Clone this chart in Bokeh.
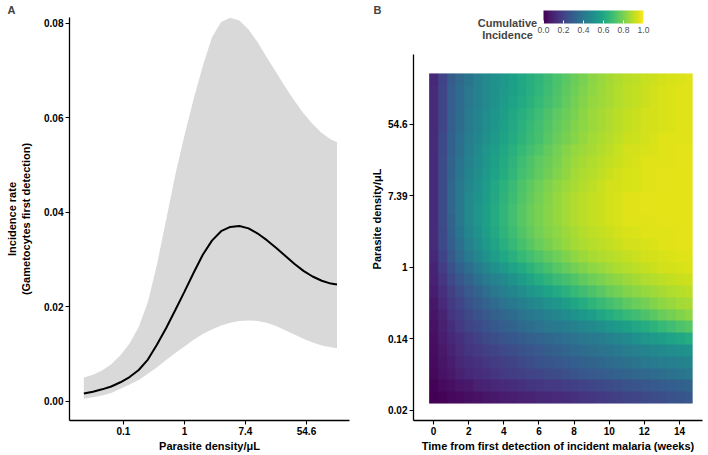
import numpy as np
from bokeh.embed import file_html
from bokeh.layouts import row
from bokeh.models import ColorBar, FixedTicker, Label, LinearColorMapper, PrintfTickFormatter, Range1d
from bokeh.palettes import Viridis256
from bokeh.plotting import figure
from bokeh.resources import INLINE

FONT = "Liberation Sans"

# ---- panel A: incidence rate vs parasite density (x is ln of density) ----
density_ln_a = [-3.3, -3.0, -2.7, -2.4, -2.1, -1.8, -1.5, -1.2, -0.9, -0.6, -0.3, 0.0, 0.3, 0.6, 0.9,
                1.2, 1.5, 1.8, 2.1, 2.4, 2.7, 3.0, 3.3, 3.6, 3.9, 4.2, 4.5, 4.8, 5.0]
rate_mid = [0.0016, 0.0020, 0.0025, 0.0031, 0.0040, 0.0051, 0.0066, 0.0088, 0.0120, 0.0155, 0.0193,
            0.0232, 0.0272, 0.0310, 0.0340, 0.0360, 0.0369, 0.0371, 0.0366, 0.0355, 0.0341, 0.0325,
            0.0308, 0.0291, 0.0276, 0.0264, 0.0255, 0.0249, 0.0247]
rate_hi = [0.0050, 0.0056, 0.0065, 0.0078, 0.0097, 0.0122, 0.0157, 0.0210, 0.0290, 0.0385, 0.0480,
           0.0563, 0.0640, 0.0710, 0.0770, 0.0803, 0.0812, 0.0806, 0.0787, 0.0760, 0.0728, 0.0697,
           0.0666, 0.0637, 0.0610, 0.0587, 0.0568, 0.0554, 0.0549]
rate_lo = [0.0005, 0.0008, 0.0012, 0.0017, 0.0026, 0.0035, 0.0045, 0.0058, 0.0072, 0.0087, 0.0102,
           0.0116, 0.0130, 0.0142, 0.0152, 0.0160, 0.0166, 0.0170, 0.0171, 0.0170, 0.0166, 0.0159,
           0.0150, 0.0141, 0.0132, 0.0124, 0.0118, 0.0114, 0.0112]
xticks_a = [-2, 0, 2, 4]
xlabels_a = ["0.1", "1", "7.4", "54.6"]
yticks_a = [0, 0.02, 0.04, 0.06, 0.08]

# ---- panel B: cumulative incidence by week (half-week steps) and ln density ----
weeks = [i * 0.5 for i in range(30)]
density_ln_b = [-3.65, -3.32, -2.98, -2.65, -2.32, -1.98, -1.65, -1.32, -0.98, -0.65, -0.32, 0.02,
                0.35, 0.68, 1.02, 1.35, 1.68, 2.02, 2.35, 2.68, 3.02, 3.35, 3.68, 4.02, 4.35, 4.68,
                5.02, 5.35]
# rows go from lowest density (bottom) to highest (top), one value per half week
incidence = [
    [0.00, 0.01, 0.02, 0.03, 0.04, 0.05, 0.06, 0.07, 0.08, 0.085, 0.09, 0.10, 0.11, 0.115, 0.12,
     0.13, 0.14, 0.15, 0.16, 0.17, 0.18, 0.19, 0.20, 0.21, 0.22, 0.23, 0.24, 0.25, 0.26, 0.27],
    [0.01, 0.03, 0.04, 0.06, 0.07, 0.09, 0.10, 0.11, 0.12, 0.13, 0.14, 0.15, 0.16, 0.165, 0.17,
     0.18, 0.19, 0.20, 0.21, 0.22, 0.23, 0.24, 0.25, 0.26, 0.27, 0.28, 0.29, 0.30, 0.31, 0.32],
    [0.02, 0.05, 0.07, 0.09, 0.11, 0.125, 0.14, 0.155, 0.17, 0.18, 0.19, 0.20, 0.21, 0.22, 0.23,
     0.245, 0.26, 0.27, 0.28, 0.29, 0.30, 0.31, 0.32, 0.33, 0.34, 0.35, 0.36, 0.375, 0.39, 0.40],
    [0.03, 0.06, 0.08, 0.11, 0.13, 0.145, 0.16, 0.175, 0.19, 0.205, 0.22, 0.235, 0.25, 0.26, 0.27,
     0.285, 0.30, 0.31, 0.32, 0.335, 0.35, 0.36, 0.37, 0.385, 0.40, 0.41, 0.42, 0.43, 0.44, 0.45],
    [0.035, 0.07, 0.10, 0.125, 0.15, 0.17, 0.19, 0.205, 0.22, 0.235, 0.25, 0.265, 0.28, 0.295, 0.31,
     0.325, 0.34, 0.355, 0.37, 0.38, 0.39, 0.405, 0.42, 0.435, 0.45, 0.465, 0.48, 0.49, 0.50, 0.51],
    [0.04, 0.08, 0.11, 0.14, 0.17, 0.195, 0.22, 0.24, 0.26, 0.275, 0.29, 0.305, 0.32, 0.335, 0.35,
     0.365, 0.38, 0.395, 0.41, 0.425, 0.44, 0.46, 0.48, 0.50, 0.52, 0.54, 0.56, 0.58, 0.60, 0.62],
    [0.05, 0.09, 0.13, 0.165, 0.20, 0.225, 0.25, 0.275, 0.30, 0.32, 0.34, 0.36, 0.38, 0.395, 0.41,
     0.425, 0.44, 0.46, 0.48, 0.50, 0.52, 0.545, 0.57, 0.595, 0.62, 0.645, 0.67, 0.695, 0.72, 0.74],
    [0.055, 0.10, 0.15, 0.185, 0.22, 0.25, 0.28, 0.305, 0.33, 0.355, 0.38, 0.40, 0.42, 0.44, 0.46,
     0.485, 0.51, 0.535, 0.56, 0.59, 0.62, 0.645, 0.67, 0.695, 0.72, 0.745, 0.77, 0.79, 0.81, 0.83],
    [0.065, 0.12, 0.17, 0.21, 0.25, 0.285, 0.32, 0.35, 0.38, 0.405, 0.43, 0.455, 0.48, 0.505, 0.53,
     0.56, 0.59, 0.62, 0.65, 0.675, 0.70, 0.725, 0.75, 0.77, 0.79, 0.81, 0.83, 0.845, 0.86, 0.87],
    [0.08, 0.14, 0.19, 0.235, 0.28, 0.32, 0.36, 0.395, 0.43, 0.46, 0.49, 0.52, 0.55, 0.58, 0.61,
     0.64, 0.67, 0.695, 0.72, 0.745, 0.77, 0.79, 0.81, 0.825, 0.84, 0.855, 0.87, 0.88, 0.89, 0.90],
    [0.09, 0.16, 0.22, 0.27, 0.32, 0.365, 0.41, 0.445, 0.48, 0.515, 0.55, 0.585, 0.62, 0.65, 0.68,
     0.705, 0.73, 0.755, 0.78, 0.80, 0.82, 0.835, 0.85, 0.865, 0.88, 0.89, 0.90, 0.91, 0.92, 0.925],
    [0.10, 0.18, 0.25, 0.31, 0.36, 0.41, 0.46, 0.50, 0.54, 0.575, 0.61, 0.645, 0.68, 0.71, 0.74,
     0.765, 0.79, 0.81, 0.83, 0.845, 0.86, 0.875, 0.89, 0.90, 0.91, 0.92, 0.93, 0.935, 0.94, 0.945],
    [0.11, 0.20, 0.28, 0.35, 0.41, 0.46, 0.51, 0.555, 0.60, 0.635, 0.67, 0.70, 0.73, 0.755, 0.78,
     0.805, 0.83, 0.85, 0.87, 0.88, 0.89, 0.90, 0.91, 0.92, 0.93, 0.935, 0.94, 0.945, 0.95, 0.95],
    [0.12, 0.22, 0.30, 0.37, 0.44, 0.49, 0.54, 0.585, 0.63, 0.67, 0.71, 0.74, 0.77, 0.795, 0.82,
     0.84, 0.86, 0.875, 0.89, 0.90, 0.91, 0.92, 0.93, 0.935, 0.94, 0.945, 0.95, 0.955, 0.96, 0.96],
    [0.12, 0.22, 0.31, 0.39, 0.46, 0.51, 0.56, 0.605, 0.65, 0.69, 0.73, 0.76, 0.79, 0.81, 0.83,
     0.85, 0.87, 0.885, 0.90, 0.91, 0.92, 0.93, 0.94, 0.945, 0.95, 0.95, 0.95, 0.955, 0.96, 0.96],
    [0.12, 0.23, 0.32, 0.40, 0.47, 0.52, 0.57, 0.615, 0.66, 0.70, 0.74, 0.77, 0.80, 0.82, 0.84,
     0.86, 0.88, 0.895, 0.91, 0.92, 0.93, 0.94, 0.95, 0.95, 0.95, 0.955, 0.96, 0.96, 0.96, 0.96],
    [0.12, 0.23, 0.33, 0.40, 0.47, 0.52, 0.57, 0.615, 0.66, 0.70, 0.74, 0.77, 0.80, 0.82, 0.84,
     0.86, 0.88, 0.895, 0.91, 0.92, 0.93, 0.94, 0.95, 0.955, 0.96, 0.96, 0.96, 0.96, 0.96, 0.96],
    [0.12, 0.23, 0.33, 0.40, 0.47, 0.515, 0.56, 0.605, 0.65, 0.69, 0.73, 0.76, 0.79, 0.815, 0.84,
     0.86, 0.88, 0.895, 0.91, 0.92, 0.93, 0.94, 0.95, 0.955, 0.96, 0.96, 0.96, 0.96, 0.96, 0.96],
    [0.12, 0.23, 0.33, 0.40, 0.46, 0.505, 0.55, 0.595, 0.64, 0.68, 0.72, 0.75, 0.78, 0.805, 0.83,
     0.85, 0.87, 0.885, 0.90, 0.915, 0.93, 0.935, 0.94, 0.945, 0.95, 0.955, 0.96, 0.96, 0.96, 0.96],
    [0.12, 0.23, 0.32, 0.39, 0.45, 0.495, 0.54, 0.58, 0.62, 0.66, 0.70, 0.73, 0.76, 0.785, 0.81,
     0.835, 0.86, 0.875, 0.89, 0.905, 0.92, 0.93, 0.94, 0.945, 0.95, 0.955, 0.96, 0.96, 0.96, 0.96],
    [0.12, 0.23, 0.32, 0.38, 0.44, 0.485, 0.53, 0.57, 0.61, 0.65, 0.69, 0.72, 0.75, 0.775, 0.80,
     0.825, 0.85, 0.865, 0.88, 0.895, 0.91, 0.92, 0.93, 0.94, 0.95, 0.95, 0.95, 0.955, 0.96, 0.96],
    [0.12, 0.22, 0.31, 0.37, 0.43, 0.475, 0.52, 0.56, 0.60, 0.635, 0.67, 0.70, 0.73, 0.76, 0.79,
     0.815, 0.84, 0.855, 0.87, 0.885, 0.90, 0.915, 0.93, 0.935, 0.94, 0.945, 0.95, 0.955, 0.96, 0.96],
    [0.12, 0.22, 0.31, 0.365, 0.42, 0.46, 0.50, 0.54, 0.58, 0.615, 0.65, 0.68, 0.71, 0.74, 0.77,
     0.795, 0.82, 0.84, 0.86, 0.875, 0.89, 0.905, 0.92, 0.925, 0.93, 0.94, 0.95, 0.95, 0.95, 0.955],
    [0.12, 0.21, 0.30, 0.355, 0.41, 0.45, 0.49, 0.53, 0.57, 0.605, 0.64, 0.67, 0.70, 0.73, 0.76,
     0.785, 0.81, 0.83, 0.85, 0.865, 0.88, 0.895, 0.91, 0.92, 0.93, 0.935, 0.94, 0.945, 0.95, 0.95],
    [0.12, 0.21, 0.30, 0.355, 0.41, 0.45, 0.49, 0.525, 0.56, 0.595, 0.63, 0.66, 0.69, 0.72, 0.75,
     0.775, 0.80, 0.825, 0.85, 0.865, 0.88, 0.895, 0.91, 0.92, 0.93, 0.935, 0.94, 0.945, 0.95, 0.95],
    [0.12, 0.21, 0.30, 0.35, 0.40, 0.44, 0.48, 0.515, 0.55, 0.58, 0.61, 0.64, 0.67, 0.70, 0.73,
     0.76, 0.79, 0.815, 0.84, 0.855, 0.87, 0.885, 0.90, 0.91, 0.92, 0.93, 0.94, 0.945, 0.95, 0.95],
    [0.12, 0.21, 0.30, 0.35, 0.40, 0.44, 0.48, 0.51, 0.54, 0.57, 0.60, 0.63, 0.66, 0.69, 0.72,
     0.75, 0.78, 0.805, 0.83, 0.85, 0.87, 0.885, 0.90, 0.91, 0.92, 0.93, 0.94, 0.945, 0.95, 0.95],
    [0.11, 0.20, 0.29, 0.345, 0.39, 0.435, 0.47, 0.505, 0.535, 0.565, 0.595, 0.625, 0.655, 0.685, 0.715,
     0.745, 0.775, 0.80, 0.825, 0.845, 0.865, 0.88, 0.895, 0.905, 0.915, 0.925, 0.935, 0.94, 0.945, 0.95],
]
xticks_b = [0, 2, 4, 6, 8, 10, 12, 14]
yticks_b = [-4, -2, 0, 2, 4]
ylabels_b = ["0.02", "0.14", "1", "7.39", "54.6"]
cbar_ticks = [0.0, 0.2, 0.4, 0.6, 0.8, 1.0]


def style(p, tag_offset):
    p.grid.grid_line_color = None
    p.outline_line_color = None
    # panel letter as a left aligned title pushed out over the axis area
    p.title.align = "left"
    p.title.offset = tag_offset
    p.title.standoff = 3
    p.title.text_font = FONT
    p.title.text_font_size = "11px"
    p.title.text_font_style = "bold"
    for ax in p.axis:
        ax.axis_line_color = "black"
        ax.axis_line_width = 1.3
        ax.major_tick_line_color = "black"
        ax.major_tick_line_width = 1.1
        ax.major_tick_in = 0
        ax.major_tick_out = 4
        ax.minor_tick_line_color = None
        ax.major_label_standoff = 2
        ax.major_label_text_font = FONT
        ax.major_label_text_font_style = "bold"
        ax.major_label_text_font_size = "10px"
        ax.major_label_text_color = "black"
        ax.axis_label_text_font = FONT
        ax.axis_label_text_font_style = "bold"
        ax.axis_label_text_font_size = "11px"
        ax.axis_label_text_color = "black"
        ax.axis_label_standoff = 2


# panel A
pA = figure(title="A", width=360, height=454, output_backend="svg", toolbar_location=None,
            x_range=Range1d(-3.77, 5.41), y_range=Range1d(-0.0041, 0.08126),
            min_border_left=69, min_border_right=11, min_border_top=15, min_border_bottom=34)
pA.varea(x=density_ln_a, y1=rate_lo, y2=rate_hi, fill_color="#d9d9d9")
pA.line(density_ln_a, rate_mid, line_color="black", line_width=2)
style(pA, -62)
pA.xaxis.ticker = FixedTicker(ticks=xticks_a)
pA.xaxis.major_label_overrides = dict(zip(xticks_a, xlabels_a))
pA.yaxis.ticker = FixedTicker(ticks=yticks_a)
pA.yaxis.formatter = PrintfTickFormatter(format="%.2f")
pA.xaxis.axis_label = "Parasite density/\u03bcL"
pA.yaxis.axis_label = "Incidence rate\n(Gametocytes first detection)"
pA.yaxis.axis_label_standoff = 9

# panel B
pB = figure(title="B", width=346, height=454, output_backend="svg", toolbar_location=None,
            x_range=Range1d(-1.14, 15.31), y_range=Range1d(-4.29, 6.99),
            min_border_left=53, min_border_right=4, min_border_top=15, min_border_bottom=34)
mapper = LinearColorMapper(palette=Viridis256, low=0, high=1)
col_step = weeks[1] - weeks[0]
row_step = density_ln_b[1] - density_ln_b[0]
pB.image(image=[np.array(incidence)], x=weeks[0] - col_step / 2, y=density_ln_b[0] - row_step / 2,
         dw=col_step * len(weeks), dh=row_step * len(density_ln_b), color_mapper=mapper)
style(pB, -40)
pB.xaxis.ticker = FixedTicker(ticks=xticks_b)
pB.yaxis.ticker = FixedTicker(ticks=yticks_b)
pB.yaxis.major_label_overrides = dict(zip(yticks_b, ylabels_b))
pB.yaxis.bounds = (-4.29, 5.96)
pB.xaxis.axis_label = "Time from first detection of incident malaria (weeks)"
pB.yaxis.axis_label = "Parasite density/\u03bcL"

cb = ColorBar(color_mapper=mapper, orientation="horizontal", width=100, height=13,
              ticker=FixedTicker(ticks=cbar_ticks), formatter=PrintfTickFormatter(format="%.1f"),
              location=(130, 385), padding=0, label_standoff=3,
              major_label_text_font=FONT, major_label_text_font_size="8.5px",
              major_label_text_color="#4d4d4d", major_tick_line_color="white",
              major_tick_in=3, major_tick_out=0, bar_line_color=None,
              border_line_color=None, background_fill_alpha=0)
pB.add_layout(cb)
for txt, yy in [("Cumulative", 398), ("Incidence", 386)]:
    pB.add_layout(Label(x=94, y=yy, x_units="screen", y_units="screen", text=txt,
                        text_font=FONT, text_font_style="bold", text_font_size="11px",
                        text_align="center", text_baseline="alphabetic"))

layout = row(pA, pB)
open("out.html", "w").write(file_html(layout, INLINE))
